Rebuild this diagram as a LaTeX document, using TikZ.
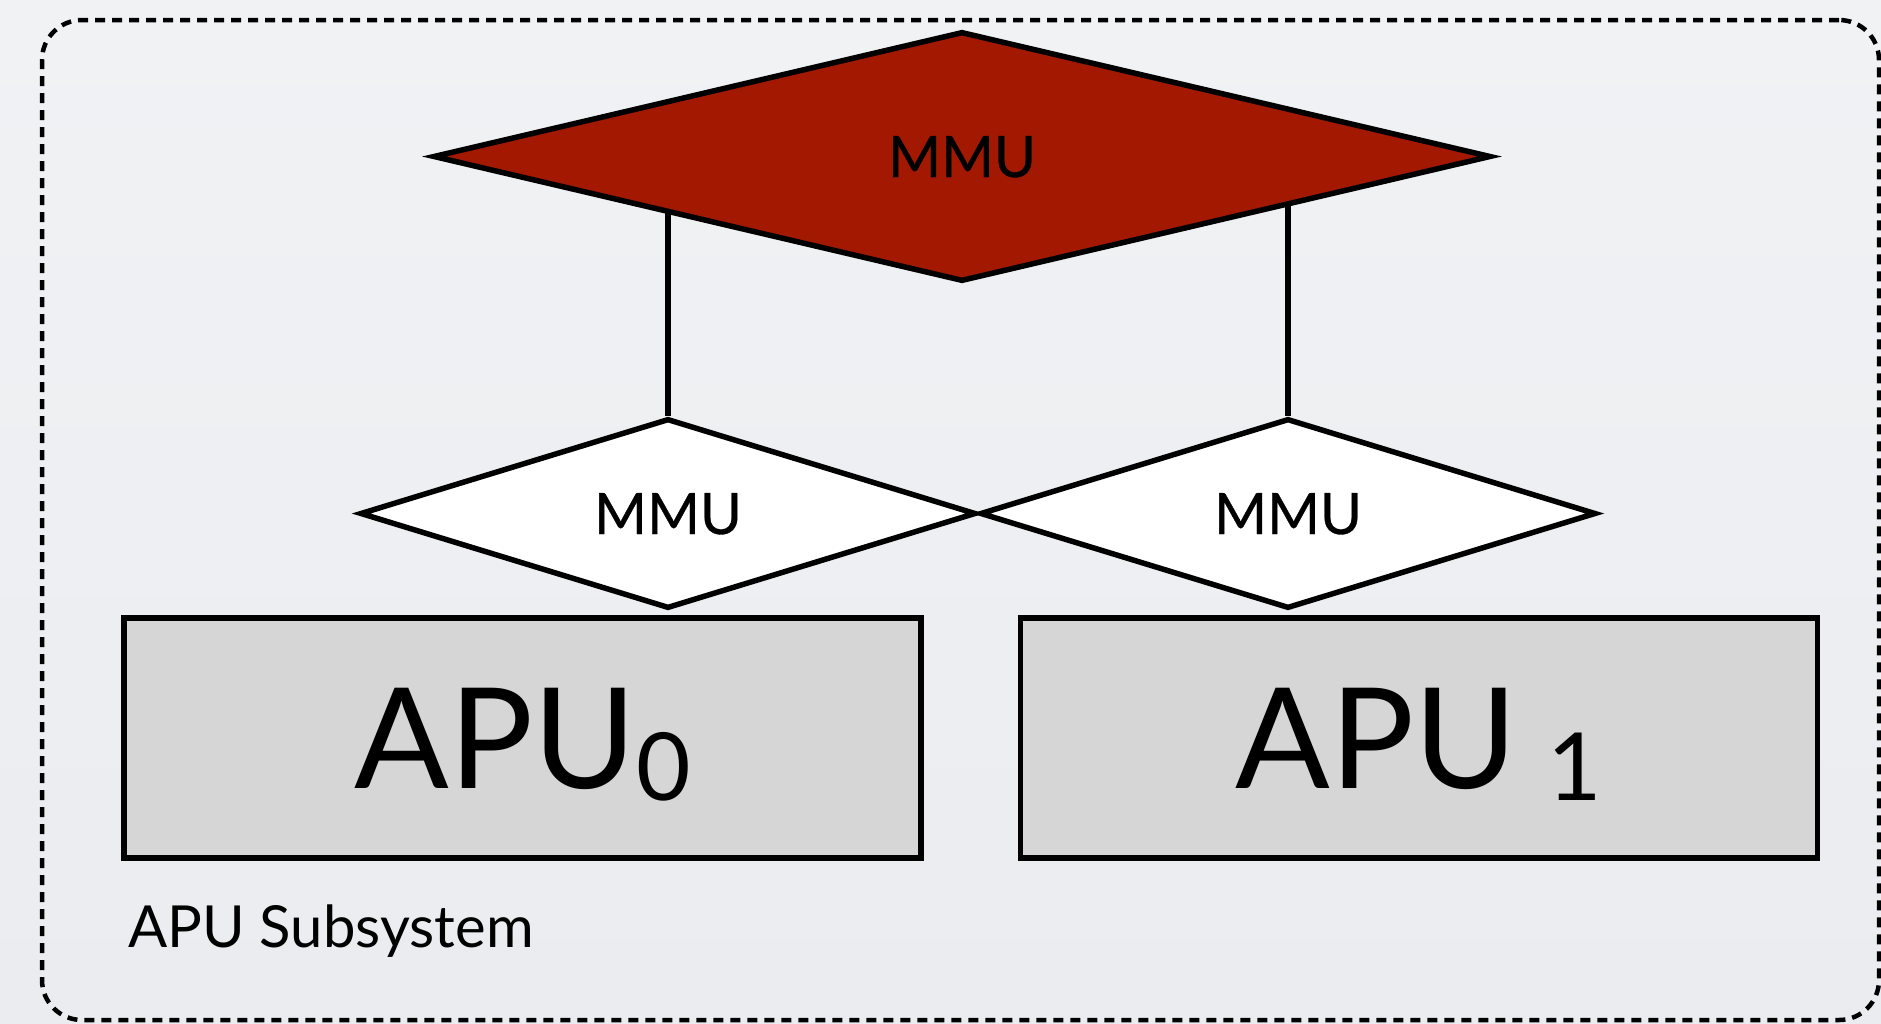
\documentclass[tikz,border=0pt]{standalone}
\usepackage{fontspec}
\setmainfont{Lato}
\newfontfamily\mmufont[FakeBold=0.6]{Lato}
\usetikzlibrary{shapes.geometric}
\pgfdeclarelayer{bg}
\pgfdeclarelayer{back}
\pgfsetlayers{bg,back,main}
\definecolor{pagebgtop}{RGB}{240,242,244}
\definecolor{pagebgbot}{RGB}{234,236,240}
\definecolor{mmured}{RGB}{162,24,0}
\definecolor{apugray}{RGB}{214,214,214}
\begin{document}
\begin{tikzpicture}[x=1pt,y=-1pt,
  mmubig/.style={diamond, draw=black, line width=5.5pt, fill=mmured,
    minimum width=1058pt, minimum height=250pt, inner sep=0pt,
    font=\mmufont\fontsize{57}{57}\selectfont, text height=41pt, text depth=0pt},
  mmusmall/.style={diamond, draw=black, line width=5.5pt, fill=white,
    minimum width=616pt, minimum height=190pt, inner sep=0pt,
    font=\mmufont\fontsize{57}{57}\selectfont, text height=41pt, text depth=0pt},
  apubox/.style={rectangle, draw=black, line width=5.5pt, fill=apugray,
    minimum width=797pt, minimum height=240pt, inner sep=0pt,
    font=\fontsize{140}{140}\selectfont, text height=101pt, text depth=0pt},
  frame/.style={rectangle, draw=black, line width=4.5pt, dash pattern=on 10pt off 7pt,
    rounded corners=40pt, minimum width=1837pt, minimum height=1000pt, inner sep=0pt},
  link/.style={draw=black, line width=5.5pt},
  caption/.style={font=\fontsize{58}{58}\selectfont, inner sep=0pt, anchor=base west}
]
\useasboundingbox (0,0) rectangle (1881,1023);
\begin{pgfonlayer}{bg}
  \shade[top color=pagebgtop, bottom color=pagebgbot] (0,0) rectangle (1881,1023);
\end{pgfonlayer}

\node[frame] (subsys) at (960.5,520) {};
\node[caption] (subsyslabel) at (128,947) {APU Subsystem};

\node[apubox] (apu0) at (522.5,738) {APU{\fontsize{94}{94}\selectfont\raisebox{-12pt}{0}}};
\node[apubox] (apu1) at (1419,738) {APU\hspace{30pt}{\fontsize{94}{94}\selectfont\raisebox{-12pt}{1}}};

\node[mmubig] (mmu) at (962,156.5) {MMU};
\node[mmusmall] (mmu0) at (668,513.5) {MMU};
\node[mmusmall] (mmu1) at (1288,513.5) {MMU};

\begin{pgfonlayer}{back}
  \draw[link] (mmu0.north) -- (mmu0.north |- mmu.center);
  \draw[link] (mmu1.north) -- (mmu1.north |- mmu.center);
\end{pgfonlayer}
\end{tikzpicture}
\end{document}
